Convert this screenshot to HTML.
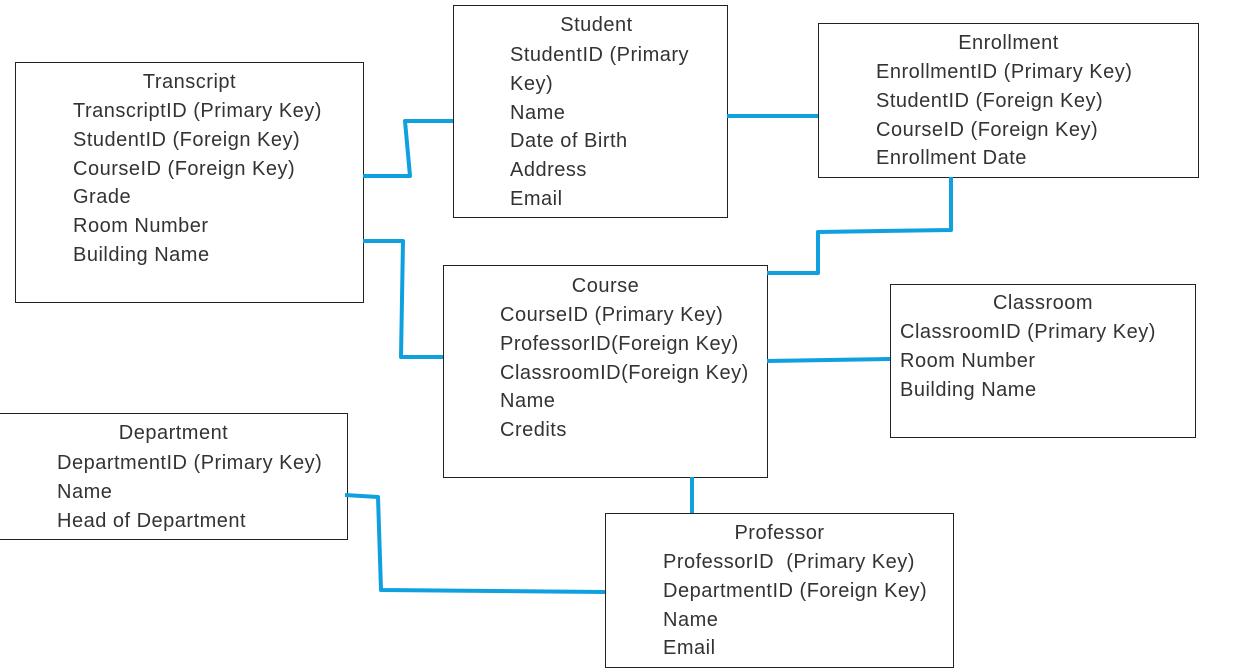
<!DOCTYPE html>
<html><head><meta charset="utf-8"><style>
body{margin:0;width:1242px;height:672px;background:#fff;position:relative;overflow:hidden;font-family:"Liberation Sans",sans-serif;color:#333;}
.b{position:absolute;border:1.3px solid #222;box-sizing:border-box;background:#fff}
.t{position:absolute;font-size:20px;line-height:28.8px;letter-spacing:0.5px;white-space:nowrap}
svg{position:absolute;left:0;top:0}
</style></head><body>
<div class="b" style="left:15px;top:62px;width:349px;height:241px"></div>
<div class="b" style="left:453px;top:5px;width:275px;height:213px"></div>
<div class="b" style="left:818px;top:23px;width:381px;height:155px"></div>
<div class="b" style="left:443px;top:265px;width:325px;height:213px"></div>
<div class="b" style="left:890px;top:284px;width:306px;height:154px"></div>
<div class="b" style="left:-1px;top:413px;width:349px;height:127px"></div>
<div class="b" style="left:605px;top:513px;width:349px;height:155px"></div>
<svg width="1242" height="672"><g fill="none" stroke="#0fa0e0" stroke-width="4" stroke-linejoin="round">
<polyline points="363,176 410,176 405,121 453,121"/>
<polyline points="727,116 818,116"/>
<polyline points="951,177 951,230 818,232 818,273 767,273"/>
<polyline points="363,241 403,241 401,357 443,357"/>
<polyline points="767,361 890,359"/>
<polyline points="692,477 692,513"/>
<polyline points="345,495 378,497 381,590 605,592"/>
</g></svg>
<div class="t" style="left:15px;width:349px;text-align:center;top:68px">Transcript</div>
<div class="t" style="left:73px;top:97px">TranscriptID (Primary Key)<br>StudentID (Foreign Key)<br>CourseID (Foreign Key)<br>Grade<br>Room Number<br>Building Name</div>
<div class="t" style="left:453px;width:287px;text-align:center;top:11px">Student</div>
<div class="t" style="left:510px;top:41px">StudentID (Primary<br>Key)<br>Name<br>Date of Birth<br>Address<br>Email</div>
<div class="t" style="left:818px;width:381px;text-align:center;top:29px">Enrollment</div>
<div class="t" style="left:876px;top:58px">EnrollmentID (Primary Key)<br>StudentID (Foreign Key)<br>CourseID (Foreign Key)<br>Enrollment Date</div>
<div class="t" style="left:443px;width:325px;text-align:center;top:272px">Course</div>
<div class="t" style="left:500px;top:301px">CourseID (Primary Key)<br>ProfessorID(Foreign Key)<br>ClassroomID(Foreign Key)<br>Name<br>Credits</div>
<div class="t" style="left:890px;width:306px;text-align:center;top:289px">Classroom</div>
<div class="t" style="left:900px;top:318px">ClassroomID (Primary Key)<br>Room Number<br>Building Name</div>
<div class="t" style="left:0px;width:347px;text-align:center;top:419px">Department</div>
<div class="t" style="left:57px;top:449px">DepartmentID (Primary Key)<br>Name<br>Head of Department</div>
<div class="t" style="left:605px;width:349px;text-align:center;top:519px">Professor</div>
<div class="t" style="left:663px;top:548px">ProfessorID&nbsp; (Primary Key)<br>DepartmentID (Foreign Key)<br>Name<br>Email</div>
</body></html>
